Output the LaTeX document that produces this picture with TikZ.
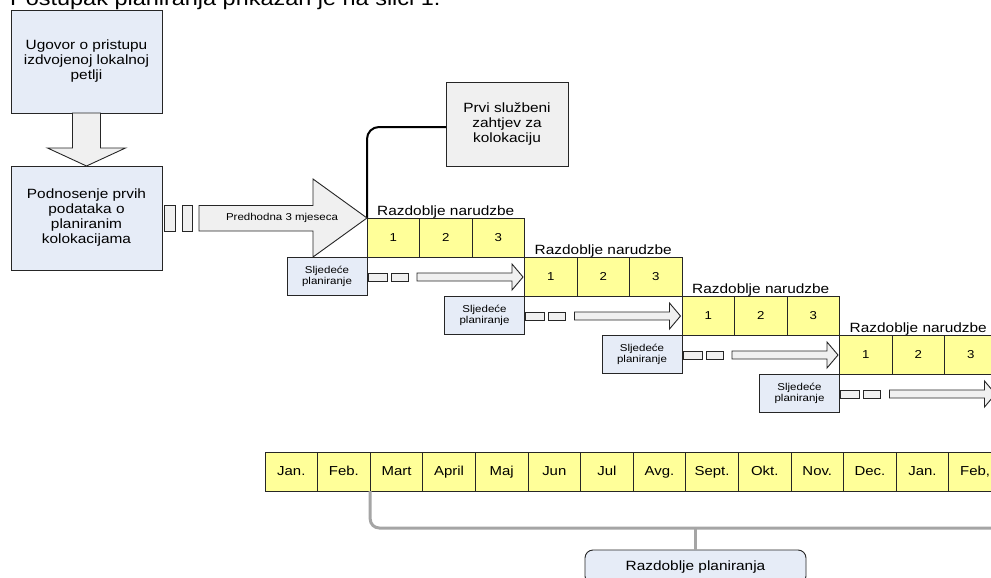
\documentclass[tikz,border=0pt]{standalone}
\usepackage{fontspec}
\setmainfont{Liberation Sans}[FakeStretch=1.15]
\usetikzlibrary{calc}
\definecolor{boxblue}{HTML}{E6ECF7}
\definecolor{boxgray}{HTML}{F0F0F0}
\definecolor{cellyel}{HTML}{FFFF99}
\definecolor{edge}{HTML}{262626}
\definecolor{brk}{HTML}{A5A5A5}
\newcommand{\fsz}[2]{\fontsize{#1}{#2}\selectfont}
\begin{document}
\begin{tikzpicture}[x=1pt,y=-1pt,
 base/.style={draw=edge, line width=0.9pt, inner sep=0pt, outer sep=0pt, align=center},
 bluebox/.style={base, fill=boxblue, font=\fsz{13.4}{15}},
 graybox/.style={base, fill=boxgray, font=\fsz{13.4}{15}},
 cell/.style={base, fill=cellyel, minimum width=52.5pt, minimum height=39pt, font=\fsz{11.5}{13}, text height=8.2pt, text depth=0pt},
 month/.style={base, fill=cellyel, minimum width=52.6pt, minimum height=39pt, font=\fsz{13}{15}, text height=9.4pt, text depth=1pt},
 nextbox/.style={base, fill=boxblue, minimum width=80pt, minimum height=38pt, font=\fsz{10}{11}},
 tile/.style={base, fill=boxgray},
 arrowshape/.style={draw=edge, line width=0.9pt, fill=boxgray, line join=miter},
 lbl/.style={font=\fsz{13.4}{15}, inner sep=0pt},
 conn/.style={draw=black, line width=2pt, rounded corners=12pt},
 bracket/.style={draw=brk, line width=3pt, rounded corners=9pt},
]
\clip (0,0) rectangle (991,578);
\fill[white] (0,0) rectangle (991,578);

% heading (cut at the top edge, as in the reference)
\node[anchor=base west, inner sep=0pt, font=\fsz{20.4}{24}] (head) at (10,6) {Postupak planiranja prikazan je na slici 1.};

% left boxes
\node[bluebox, minimum width=151pt, minimum height=103pt] (u) at (86.5,61.5) {Ugovor o pristupu\\izdvojenoj lokalnoj\\petlji};
\node[bluebox, minimum width=151pt, minimum height=104pt] (p) at (86.5,218) {Podnosenje prvih\\podataka o\\planiranim\\kolokacijama};
\draw[arrowshape] ($(u.south)+(-14,0)$) -- ($(u.south)+(14,0)$) -- ($(u.south)+(14,35)$) -- ($(u.south)+(39,35)$) -- (p.north) -- ($(u.south)+(-39,35)$) -- ($(u.south)+(-14,35)$) -- cycle;

% order rows
\foreach \k in {0,...,3} {
  \foreach \j/\n in {0/1,1/2,2/3} {
    \node[cell] (r\k-\j) at ({367+157.5*\k+52.5*\j+26.25},{218+39*\k+19.5}) {\n};
  }
  \node[lbl, anchor=base] (lab\k) at ($(r\k-1.north)+(0,-2.5)$) {Razdoblje narudzbe};
  \node[nextbox, anchor=north east] (s\k) at (r\k-0.south west) {Sljedeće\\planiranje};
  \node[tile, minimum width=19pt, minimum height=8pt] (a\k) at ({377.5+157.5*\k},{277+39*\k}) {};
  \node[tile, minimum width=17pt, minimum height=8pt] (b\k) at ({399.5+157.5*\k},{277+39*\k}) {};
  \coordinate (tip\k) at ({523+157.5*\k},{277+39*\k});
  \draw[arrowshape] ($(tip\k)+(-106,-4)$) -- ($(tip\k)+(-11,-4)$) -- ($(tip\k)+(-11,-13)$) -- (tip\k) -- ($(tip\k)+(-11,13)$) -- ($(tip\k)+(-11,4)$) -- ($(tip\k)+(-106,4)$) -- cycle;
}

% first request box and connector
\node[graybox, minimum width=122pt, minimum height=84pt] (q) at (507,124) {Prvi službeni\\zahtjev za\\kolokaciju};
\draw[conn] ([yshift=-3pt]q.west) -| (r0-0.north west);

% first tiles and big arrow
\node[tile, minimum width=11pt, minimum height=26pt] (t1) at (169.5,218) {};
\node[tile, minimum width=10pt, minimum height=26pt] (t2) at (187,218) {};
\draw[arrowshape] (199,205.5) -- (313,205.5) -- (313,179) -- (r0-0.north west) -- (313,257) -- (313,231) -- (199,231) -- cycle;
\node[inner sep=0pt, font=\fsz{10}{12}] (predh) at (282,218) {Predhodna 3 mjeseca};

% months
\foreach \m [count=\i from 0] in {Jan.,Feb.,Mart,April,Maj,Jun,Jul,Avg.,Sept.,Okt.,Nov.,Dec.,Jan.,{Feb,}} {
  \node[month] (m\i) at ({265+52.6*\i+26.3},471.5) {\m};
}

% planning period
\node[bluebox, rounded corners=8pt, minimum width=221pt, minimum height=34pt] (rp) at (695.5,567) {Razdoblje planiranja};
\draw[bracket] (m1.south east) -- ++(0,37) -- (1020,528);
\draw[draw=brk, line width=3pt] (rp.north) -- ++(0,-23);
\end{tikzpicture}
\end{document}
